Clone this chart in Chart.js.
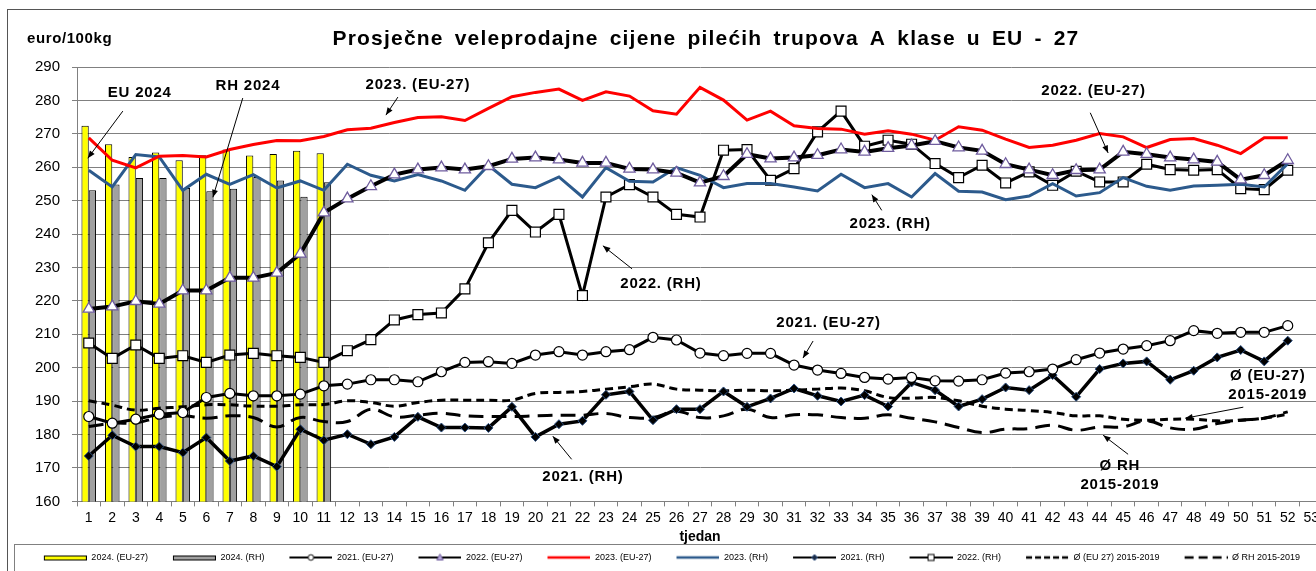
<!DOCTYPE html>
<html>
<head>
<meta charset="utf-8">
<title>Prosječne veleprodajne cijene pilećih trupova</title>
<script src="https://cdn.jsdelivr.net/npm/chart.js@4/dist/chart.umd.min.js"></script>
<style>
  html, body { margin: 0; padding: 0; background: #fff; overflow: hidden; }
  #wrap { width: 1316px; height: 571px; overflow: hidden; position: relative; }
  #myChart { position: absolute; left: 0; top: 0; }
</style>
</head>
<body>
<div id="wrap"><canvas id="myChart" width="1334" height="572"></canvas></div>
<script>
'use strict';

// categories (tjedan)
let weekLabels = ['1','2','3','4','5','6','7','8','9','10','11','12','13','14','15','16','17','18','19','20',
  '21','22','23','24','25','26','27','28','29','30','31','32','33','34','35','36','37','38','39','40',
  '41','42','43','44','45','46','47','48','49','50','51','52','53'];

// y axis
let yMin = 160;
let yMax = 290;
let yStep = 10;

// 2024 bars (weeks 1-11)
let eu2024 = [272.4, 266.9, 263.1, 264.4, 262.1, 263.6, 265.3, 263.5, 264.0, 264.9, 264.2];
let rh2024 = [253.1, 254.8, 256.8, 256.8, 253.8, 252.8, 253.6, 257.1, 256.0, 251.2, 255.5];

// weekly lines (weeks 1-52)
let eu2021 = [185.4, 183.4, 184.6, 186.1, 186.6, 191.1, 192.3, 191.6, 191.6, 192.1, 194.6, 195.1, 196.4,
  196.4, 195.8, 198.8, 201.6, 201.8, 201.3, 203.8, 204.8, 203.8, 204.8, 205.4, 209.1, 208.3, 204.4,
  203.6, 204.3, 204.3, 200.8, 199.3, 198.3, 197.1, 196.6, 197.1, 196.1, 196.0, 196.4, 198.4, 198.8,
  199.6, 202.4, 204.4, 205.6, 206.6, 208.1, 211.1, 210.3, 210.6, 210.6, 212.6];

let eu2022 = [217.6, 218.3, 219.9, 219.1, 223.1, 223.1, 226.9, 226.9, 228.4, 234.1, 246.4, 250.6, 254.3,
  257.8, 259.3, 259.9, 259.3, 260.3, 262.5, 262.9, 262.3, 261.3, 261.3, 259.5, 259.3, 258.3, 255.4,
  257.3, 263.9, 262.6, 262.9, 263.6, 265.3, 264.6, 265.7, 266.5, 267.8, 265.9, 264.9, 260.9, 259.3,
  257.6, 259.1, 259.3, 264.6, 263.9, 262.9, 262.3, 261.6, 256.3, 257.6, 262.1];

let eu2023 = [268.8, 262.1, 259.8, 263.3, 263.5, 263.1, 265.3, 266.8, 268.0, 267.9, 269.2, 271.2, 271.7,
  273.4, 274.9, 275.1, 274.0, 277.6, 281.1, 282.4, 283.4, 280.0, 282.6, 281.3, 276.9, 275.9, 283.9,
  280.1, 274.1, 276.8, 272.4, 271.6, 271.4, 269.9, 270.9, 269.9, 268.1, 272.1, 271.1, 268.4, 265.9,
  266.6, 268.1, 270.1, 269.1, 265.9, 268.3, 268.6, 266.6, 264.1, 268.8, 268.8];

let rh2023 = [259.1, 254.1, 263.8, 263.1, 253.1, 257.9, 254.9, 257.8, 253.8, 255.9, 253.1, 260.9, 257.6,
  255.9, 257.8, 255.9, 253.1, 260.6, 254.9, 253.9, 257.1, 251.1, 259.9, 255.8, 255.6, 259.9, 257.6,
  253.9, 255.1, 255.1, 254.1, 252.9, 257.9, 253.9, 255.1, 251.1, 258.1, 252.8, 252.6, 250.3, 251.4,
  255.1, 251.4, 252.4, 256.9, 254.3, 253.1, 254.4, 254.6, 254.9, 254.1, 261.1];

let rh2021 = [173.6, 179.8, 176.4, 176.4, 174.6, 179.1, 172.1, 173.6, 170.4, 181.6, 178.3, 180.1, 177.1,
  179.3, 185.3, 182.1, 182.1, 182.0, 188.3, 179.3, 183.1, 184.1, 191.9, 192.9, 184.3, 187.6, 187.6,
  192.9, 188.3, 190.8, 193.8, 191.6, 189.9, 191.8, 188.4, 195.6, 193.3, 188.4, 190.6, 194.1, 193.3,
  197.8, 191.3, 199.6, 201.3, 201.9, 196.4, 199.1, 203.1, 205.3, 201.9, 208.1];

let rh2022 = [207.4, 202.8, 206.8, 202.8, 203.6, 201.6, 203.8, 204.3, 203.6, 203.1, 201.6, 205.1, 208.4,
  214.3, 215.9, 216.4, 223.6, 237.4, 247.1, 240.6, 245.9, 221.6, 251.1, 254.8, 251.1, 245.9, 245.1,
  265.1, 265.3, 256.1, 259.6, 270.6, 276.8, 266.3, 268.1, 266.9, 261.1, 256.9, 260.6, 255.3, 258.6,
  254.6, 258.8, 255.6, 255.6, 260.9, 259.3, 259.1, 259.3, 253.6, 253.3, 259.1];

let avgEu1519 = [190.1, 188.8, 187.3, 187.9, 188.3, 188.9, 188.9, 188.5, 188.5, 188.9, 189.0, 190.1, 189.6,
  188.5, 189.6, 190.3, 190.3, 190.3, 190.3, 192.3, 192.6, 192.9, 193.6, 194.3, 195.1, 193.6, 193.3,
  193.1, 193.3, 193.1, 193.3, 193.6, 193.9, 193.1, 191.1, 190.9, 191.1, 190.1, 188.5, 187.6, 187.2,
  186.6, 185.6, 185.6, 184.6, 184.3, 184.6, 184.6, 184.1, 184.3, 184.9, 186.1];

let avgRh1519 = [182.4, 183.4, 183.5, 185.1, 185.6, 184.9, 185.6, 185.1, 182.3, 185.1, 183.9, 183.9, 187.6,
  185.3, 185.8, 186.4, 185.6, 185.4, 185.4, 185.6, 185.8, 185.8, 186.3, 185.1, 185.1, 187.0, 185.1,
  185.6, 187.6, 185.1, 185.9, 185.9, 185.1, 184.9, 185.9, 184.9, 183.8, 182.1, 180.6, 181.6, 181.8,
  182.8, 181.3, 182.3, 182.3, 184.1, 182.0, 181.6, 183.3, 184.3, 184.9, 186.8];

// series names
let seriesNames = ['2024. (EU-27)', '2024. (RH)', '2021. (EU-27)', '2022. (EU-27)', '2023. (EU-27)',
  '2023. (RH)', '2021. (RH)', '2022. (RH)', 'Ø (EU 27) 2015-2019', 'Ø RH 2015-2019'];

// labels with arrows, placed in week / price units
let notes = [
  { lines: ['EU 2024'], week: 3.17, value: 282.2, from: [2.45, 276.8], to: [0.96, 262.7] },
  { lines: ['RH 2024'], week: 7.77, value: 284.3, from: [7.55, 280.7], to: [6.28, 251.0] },
  { lines: ['2023. (EU-27)'], week: 15.0, value: 284.6, from: [14.15, 281.0], to: [13.64, 275.6] },
  { lines: ['2022. (RH)'], week: 25.34, value: 225.2, from: [24.11, 229.6], to: [22.87, 236.5] },
  { lines: ['2023. (RH)'], week: 35.09, value: 243.2, from: [34.73, 247.1], to: [34.31, 251.8] },
  { lines: ['2021. (EU-27)'], week: 32.47, value: 213.5, from: [31.81, 208.0], to: [31.38, 202.9] },
  { lines: ['2021. (RH)'], week: 22.02, value: 167.2, from: [21.54, 172.6], to: [20.74, 179.5] },
  { lines: ['2022. (EU-27)'], week: 43.74, value: 282.9, from: [43.6, 276.3], to: [44.36, 264.3] },
  { lines: ['Ø (EU-27)', '2015-2019'], week: 51.15, value: 194.7, from: [50.11, 188.2], to: [47.64, 184.9] },
  { lines: ['Ø RH', '2015-2019'], week: 44.86, value: 167.8, from: [45.21, 174.1], to: [44.15, 179.8] }
];

let chartTitle = 'Prosječne veleprodajne cijene pilećih trupova A klase u EU - 27';
let unitLabel = 'euro/100kg';

const FONT = "'Liberation Sans', Arial, sans-serif";
const SW_W = 64;

Chart.defaults.font.family = FONT;
Chart.defaults.color = '#000';

// legend swatches
function makeSwatch(kind) {
  let c = document.createElement('canvas');
  c.width = SW_W;
  c.height = 12;
  let g = c.getContext('2d');
  let x0 = 21, x1 = SW_W, xm = (x0 + x1) / 2, ym = 6;
  g.lineCap = 'butt';
  if (kind.bar) {
    g.fillStyle = kind.bar;
    g.fillRect(x0 + 0.5, 4.5, x1 - x0 - 1, 4);
    g.strokeStyle = '#000';
    g.lineWidth = 1;
    g.strokeRect(x0 + 0.5, 4.5, x1 - x0 - 1, 4);
    return c;
  }
  g.strokeStyle = kind.color;
  g.lineWidth = kind.width;
  if (kind.dash) g.setLineDash(kind.dash);
  g.beginPath();
  g.moveTo(x0, ym);
  g.lineTo(x1, ym);
  g.stroke();
  g.setLineDash([]);
  g.lineWidth = 1;
  if (kind.marker === 'circle') {
    g.fillStyle = '#fff'; g.strokeStyle = '#000';
    g.beginPath(); g.arc(xm, ym, 2.8, 0, Math.PI * 2); g.fill(); g.stroke();
  } else if (kind.marker === 'triangle') {
    g.fillStyle = '#b9a9dd'; g.strokeStyle = '#6f5c9e';
    g.beginPath(); g.moveTo(xm, ym - 3.5); g.lineTo(xm + 3.2, ym + 2.5); g.lineTo(xm - 3.2, ym + 2.5);
    g.closePath(); g.fill(); g.stroke();
  } else if (kind.marker === 'square') {
    g.fillStyle = '#fff'; g.strokeStyle = '#000';
    g.fillRect(xm - 3, ym - 3, 6, 6); g.strokeRect(xm - 3, ym - 3, 6, 6);
  } else if (kind.marker === 'diamond') {
    g.fillStyle = '#1b2a44'; g.strokeStyle = '#2c4f80';
    g.beginPath(); g.moveTo(xm, ym - 3); g.lineTo(xm + 3, ym); g.lineTo(xm, ym + 3); g.lineTo(xm - 3, ym);
    g.closePath(); g.fill(); g.stroke();
  }
  return c;
}

let swatches = [
  makeSwatch({ bar: '#ffff00' }),
  makeSwatch({ bar: '#a0a0a0' }),
  makeSwatch({ color: '#000', width: 2, marker: 'circle' }),
  makeSwatch({ color: '#000', width: 2, marker: 'triangle' }),
  makeSwatch({ color: '#ff0000', width: 2.5 }),
  makeSwatch({ color: '#2c5a8c', width: 2.5 }),
  makeSwatch({ color: '#000', width: 2, marker: 'diamond' }),
  makeSwatch({ color: '#000', width: 2, marker: 'square' }),
  makeSwatch({ color: '#000', width: 2.5, dash: [6, 3] }),
  makeSwatch({ color: '#000', width: 2.5, dash: [9, 5] })
];

// frame + white background
let framePlugin = {
  id: 'frame',
  beforeDraw(chart) {
    let ctx = chart.ctx;
    ctx.save();
    ctx.fillStyle = '#fff';
    ctx.fillRect(0, 0, chart.width, chart.height);
    ctx.strokeStyle = '#555';
    ctx.lineWidth = 1;
    ctx.strokeRect(7.5, 9.5, chart.width + 20, chart.height + 20);
    ctx.strokeStyle = '#808080';
    ctx.strokeRect(14.5, 544.5, chart.width + 20, chart.height + 20);
    ctx.restore();
  }
};

function drawArrow(ctx, x1, y1, x2, y2) {
  ctx.beginPath();
  ctx.moveTo(x1, y1);
  ctx.lineTo(x2, y2);
  ctx.stroke();
  let a = Math.atan2(y2 - y1, x2 - x1);
  let h = 8;
  ctx.beginPath();
  ctx.moveTo(x2, y2);
  ctx.lineTo(x2 - h * Math.cos(a - 0.38), y2 - h * Math.sin(a - 0.38));
  ctx.lineTo(x2 - h * Math.cos(a + 0.38), y2 - h * Math.sin(a + 0.38));
  ctx.closePath();
  ctx.fill();
}

// title, unit and the arrow labels
let textPlugin = {
  id: 'texts',
  afterDraw(chart) {
    let ctx = chart.ctx;
    let xs = chart.scales.x;
    let ys = chart.scales.y;
    ctx.save();
    ctx.fillStyle = '#000';
    ctx.textBaseline = 'middle';

    ctx.font = 'bold 21px ' + FONT;
    ctx.textAlign = 'center';
    ctx.letterSpacing = '1.2px';
    ctx.wordSpacing = '4px';
    ctx.fillText(chartTitle, 706, 39);
    ctx.wordSpacing = '0px';

    ctx.font = 'bold 15px ' + FONT;
    ctx.textAlign = 'left';
    ctx.letterSpacing = '0.6px';
    ctx.fillText(unitLabel, 27, 39);

    ctx.strokeStyle = '#000';
    ctx.lineWidth = 1;
    ctx.textAlign = 'center';
    ctx.letterSpacing = '0.8px';
    notes.forEach(function(n) {
      let cx = xs.getPixelForValue(n.week - 1);
      let cy = ys.getPixelForValue(n.value);
      let lh = 19;
      let top = cy - (n.lines.length - 1) * lh / 2;
      n.lines.forEach(function(t, i) {
        ctx.fillText(t, cx, top + i * lh);
      });
      drawArrow(ctx,
        xs.getPixelForValue(n.from[0] - 1), ys.getPixelForValue(n.from[1]),
        xs.getPixelForValue(n.to[0] - 1), ys.getPixelForValue(n.to[1]));
    });
    ctx.restore();
  }
};

function lineSet(label, data, color, width, extra) {
  let ds = {
    type: 'line',
    label: label,
    data: data,
    borderColor: color,
    borderWidth: width,
    pointRadius: 0,
    tension: 0,
    fill: false,
    order: 1
  };
  return Object.assign(ds, extra || {});
}

let ctx = document.getElementById('myChart');

new Chart(ctx, {
  data: {
    labels: weekLabels,
    datasets: [
      { type: 'bar', label: seriesNames[0], data: eu2024, backgroundColor: '#ffff00', borderColor: '#000',
        borderWidth: 1, categoryPercentage: 0.62, barPercentage: 1, order: 10 },
      { type: 'bar', label: seriesNames[1], data: rh2024, backgroundColor: '#a0a0a0', borderColor: '#000',
        borderWidth: 1, categoryPercentage: 0.62, barPercentage: 1, order: 10 },
      lineSet(seriesNames[2], eu2021, '#000', 3, { pointStyle: 'circle', pointRadius: 5,
        pointBackgroundColor: '#fff', pointBorderColor: '#000', pointBorderWidth: 1.2 }),
      lineSet(seriesNames[3], eu2022, '#000', 4, { pointStyle: 'triangle', pointRadius: 6.5,
        pointBackgroundColor: '#fff', pointBorderColor: '#6f5c9e', pointBorderWidth: 1.3 }),
      lineSet(seriesNames[4], eu2023, '#ff0000', 3),
      lineSet(seriesNames[5], rh2023, '#2c5a8c', 3),
      lineSet(seriesNames[6], rh2021, '#000', 3.5, { pointStyle: 'rectRot', pointRadius: 4.5,
        pointBackgroundColor: '#000', pointBorderColor: '#2c4f80', pointBorderWidth: 1 }),
      lineSet(seriesNames[7], rh2022, '#000', 3, { pointStyle: 'rect', pointRadius: 7,
        pointBackgroundColor: '#fff', pointBorderColor: '#000', pointBorderWidth: 1.2 }),
      lineSet(seriesNames[8], avgEu1519, '#000', 3, { borderDash: [8, 5], tension: 0.4, order: 2 }),
      lineSet(seriesNames[9], avgRh1519, '#000', 3, { borderDash: [15, 8], tension: 0.4, order: 2 })
    ]
  },
  options: {
    responsive: false,
    animation: false,
    devicePixelRatio: 1,
    layout: { padding: { left: 0, right: 11, top: 67, bottom: 0 } },
    scales: {
      x: {
        offset: true,
        grid: { display: true, drawOnChartArea: false, drawTicks: true, tickLength: 5, color: '#808080', offset: true },
        border: { color: '#808080', width: 1 },
        ticks: { color: '#000', font: { size: 14 }, padding: 3, autoSkip: false, maxRotation: 0 },
        title: { display: true, text: 'tjedan', color: '#000', font: { size: 14, weight: 'bold' },
          padding: { top: 0, bottom: 3 } }
      },
      y: {
        min: yMin,
        max: yMax,
        afterFit: function(scale) { scale.width = 77; },
        grid: { color: '#808080', lineWidth: 1, tickLength: 5 },
        border: { color: '#808080', width: 1 },
        ticks: { stepSize: yStep, color: '#000', font: { size: 15 }, padding: 12 }
      }
    },
    plugins: {
      title: { display: false },
      tooltip: { enabled: false },
      legend: {
        display: true,
        position: 'bottom',
        labels: {
          usePointStyle: true,
          pointStyleWidth: SW_W,
          padding: 4,
          color: '#000',
          font: { size: 9 },
          generateLabels: function(chart) {
            return chart.data.datasets.map(function(ds, i) {
              return {
                text: ds.label,
                pointStyle: swatches[i],
                fillStyle: 'rgba(0,0,0,0)',
                strokeStyle: 'rgba(0,0,0,0)',
                lineWidth: 0,
                hidden: false,
                datasetIndex: i,
                fontColor: '#000'
              };
            });
          }
        }
      }
    }
  },
  plugins: [framePlugin, textPlugin]
});
</script>
</body>
</html>
